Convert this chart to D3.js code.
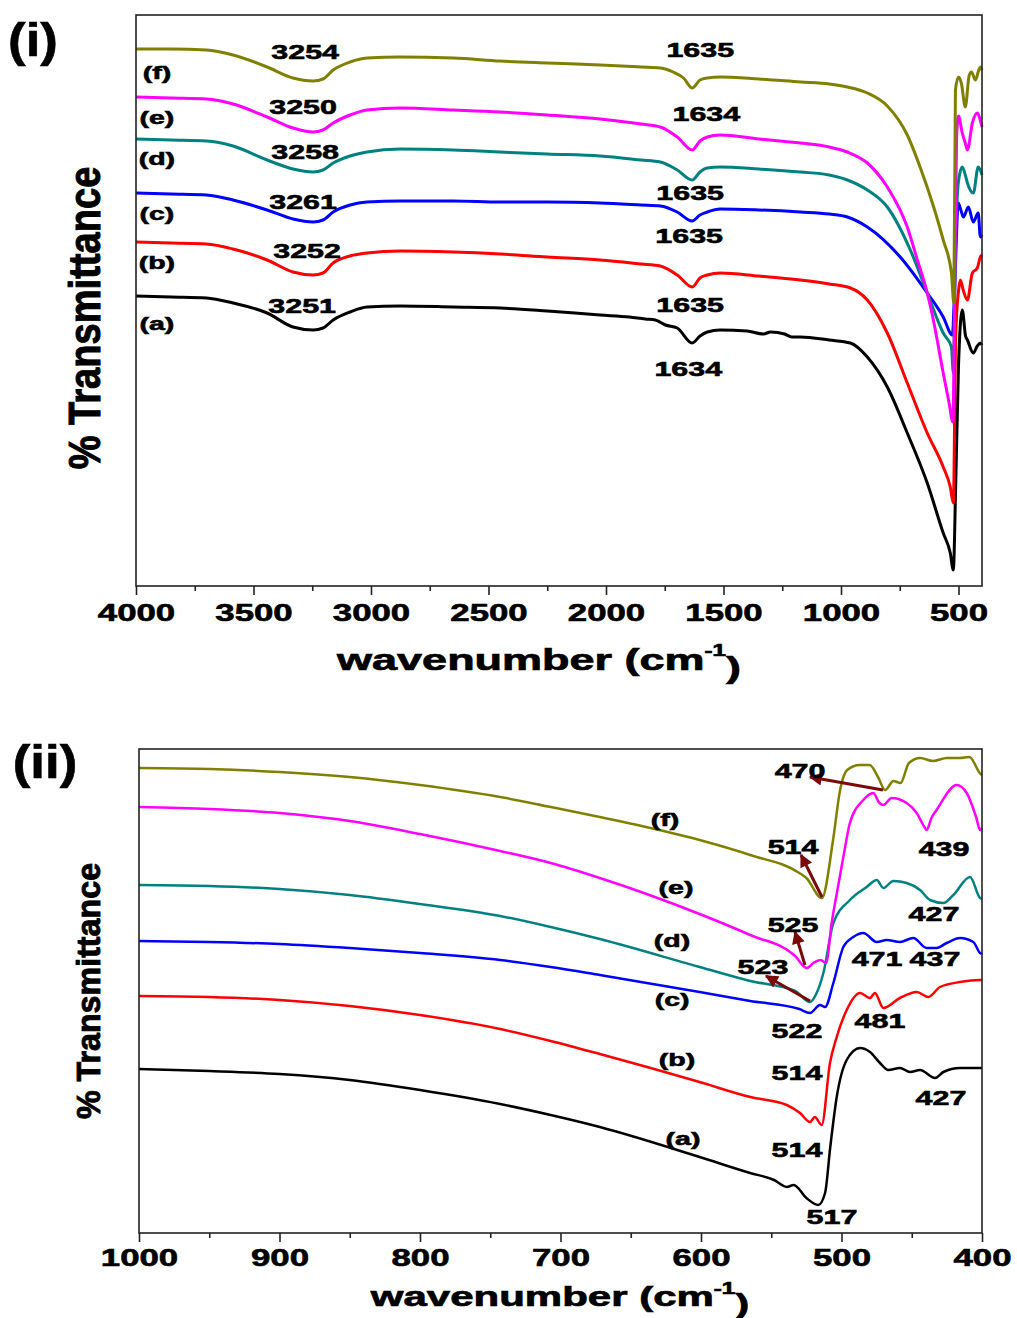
<!DOCTYPE html>
<html>
<head>
<meta charset="utf-8">
<script src="https://cdn.jsdelivr.net/npm/d3@7"></script>
<style>
  body { margin: 0; background: #fff; }
  text { font-family: "Liberation Sans", Arial, sans-serif; font-weight: bold; fill: #000; }
</style>
</head>
<body>
<div id="chart"></div>
<script>
// ---- data: [wavenumber, transmittance (a.u., offset traces)] ----
var seriesNames = ["a", "b", "c", "d", "e", "f"];
var seriesColors = ["#000000", "#ff0000", "#0000ff", "#008080", "#ff00ff", "#808000"];

// panel (i): 4000 - 400 cm-1
var topA = [[4000,29.0],[3850,28.9],[3700,28.8],[3587,28.3],[3442,27.3],[3332,25.9],[3246,25.6],[3204,25.8],[3161,26.6],[3089,27.4],[3017,27.9],[2876,28.0],[2650,27.9],[2450,27.8],[2250,27.5],[2025,27.1],[1900,26.9],[1833,26.7],[1790,26.6],[1747,26.1],[1697,25.8],[1633,24.3],[1600,25.0],[1569,25.4],[1514,25.6],[1400,25.5],[1330,25.2],[1300,25.4],[1240,25.2],[1210,24.9],[1173,24.9],[1050,24.6],[960,24.3],[888,22.9],[803,19.9],[718,15.3],[633,10.3],[565,5.3],[535,3.3],[522,1.6],[512,10.0],[500,22.0],[484,27.6],[470,25.0],[462,24.6],[437,23.3],[420,24.0],[407,24.3],[400,24.1]];
var topB = [[4000,34.4],[3850,34.3],[3700,34.2],[3587,33.7],[3442,32.6],[3332,31.4],[3246,31.1],[3204,31.3],[3161,32.3],[3089,33.0],[3017,33.3],[2876,33.5],[2650,33.4],[2450,33.2],[2250,32.9],[2025,32.6],[1850,32.2],[1769,32.0],[1697,31.1],[1633,29.9],[1600,30.8],[1569,31.1],[1514,31.3],[1350,31.0],[1173,30.6],[1050,30.2],[960,29.8],[888,28.6],[803,25.3],[718,20.3],[633,15.3],[565,11.9],[535,9.9],[522,8.3],[512,25.0],[500,29.5],[492,30.6],[480,29.6],[462,28.6],[441,31.3],[420,31.8],[407,32.9],[400,33.1]];
var topC = [[4000,39.3],[3850,39.2],[3700,39.1],[3587,38.6],[3442,37.6],[3332,36.7],[3246,36.4],[3204,36.6],[3161,37.4],[3089,38.1],[3017,38.4],[2876,38.5],[2650,38.5],[2450,38.4],[2250,38.4],[2025,38.3],[1850,38.1],[1769,38.0],[1697,37.4],[1633,36.5],[1600,37.1],[1569,37.4],[1514,37.7],[1350,37.6],[1173,37.4],[1050,37.2],[973,36.9],[888,35.9],[748,32.9],[633,29.3],[565,26.9],[526,25.1],[516,30.0],[501,38.3],[490,37.6],[479,36.9],[458,37.9],[437,36.4],[416,37.3],[407,34.9],[400,35.1]];
var topD = [[4000,44.7],[3850,44.6],[3700,44.5],[3587,44.0],[3442,42.6],[3332,41.7],[3246,41.4],[3204,41.6],[3161,42.3],[3089,43.0],[3017,43.4],[2876,43.7],[2650,43.6],[2450,43.4],[2250,43.2],[2025,43.0],[1850,42.6],[1769,42.4],[1697,41.6],[1633,40.6],[1600,41.4],[1569,41.8],[1514,41.9],[1350,41.7],[1173,41.4],[1050,41.1],[973,40.6],[888,39.6],[803,37.9],[705,33.6],[633,29.3],[565,25.3],[530,23.9],[522,21.3],[513,33.6],[500,40.5],[484,41.9],[470,41.0],[462,40.3],[437,39.3],[416,41.9],[400,41.1]];
var topE = [[4000,48.9],[3850,48.8],[3700,48.7],[3587,48.2],[3442,46.9],[3332,45.8],[3246,45.4],[3204,45.6],[3161,46.3],[3089,47.1],[3017,47.6],[2876,47.8],[2650,47.6],[2450,47.4],[2250,47.1],[2025,46.7],[1850,46.2],[1769,45.9],[1697,44.9],[1633,43.6],[1600,44.5],[1569,44.9],[1514,45.1],[1350,44.7],[1173,44.3],[1050,43.9],[973,43.4],[888,42.3],[803,39.9],[718,35.9],[675,32.6],[633,29.3],[607,26.6],[565,21.3],[540,18.3],[524,16.4],[516,30.0],[508,45.0],[500,47.0],[484,45.3],[470,44.2],[462,43.6],[441,46.3],[420,47.3],[410,46.8],[400,45.9]];
var topF = [[4000,53.7],[3850,53.7],[3700,53.6],[3587,53.1],[3442,51.9],[3332,50.8],[3246,50.5],[3204,50.7],[3161,51.6],[3089,52.4],[3017,52.8],[2876,52.9],[2650,52.8],[2450,52.5],[2250,52.3],[2025,52.1],[1850,51.9],[1769,51.8],[1714,51.4],[1670,50.8],[1633,49.8],[1600,50.6],[1569,50.8],[1514,50.9],[1350,50.7],[1173,50.4],[1050,50.2],[973,49.9],[888,49.3],[803,48.0],[718,45.1],[662,41.8],[607,38.0],[565,34.6],[530,31.3],[520,28.3],[513,49.6],[500,50.9],[488,50.3],[471,47.9],[455,51.0],[445,51.4],[428,50.6],[415,51.5],[407,51.9],[400,51.6]];

// panel (ii): 1000 - 400 cm-1
var botA = [[1000,16.4],[950,16.2],[900,15.9],[850,15.3],[800,14.3],[743,12.9],[707,11.8],[672,10.6],[601,7.6],[565,6.0],[548,5.3],[539,4.6],[534,4.8],[525,3.5],[516.5,2.8],[511.7,4.0],[508,8.6],[503.4,13.6],[496.3,17.3],[486.8,18.5],[479.7,18.1],[472.6,17.0],[466.7,16.3],[458.4,16.5],[451.2,16.1],[444.1,16.3],[433.4,15.5],[427.5,16.1],[415.7,16.5],[401.4,16.5],[400,16.5]];
var botB = [[1000,23.7],[950,23.6],[900,23.3],[850,22.7],[800,21.8],[743,20.4],[707,19.2],[672,17.9],[601,15.1],[565,13.6],[539,12.8],[529.5,12.0],[522.4,11.1],[519,11.6],[514.1,10.8],[508.2,17.0],[503.4,19.6],[496.3,22.3],[486.8,24.0],[479.7,23.5],[476.2,24.0],[470.2,22.5],[458.4,23.5],[446.5,24.1],[438.2,23.6],[429.9,24.6],[415.7,25.1],[401.4,25.3],[400,25.3]];
var botC = [[1000,29.2],[950,29.1],[900,28.9],[850,28.5],[800,28.0],[743,27.3],[707,26.6],[672,25.8],[601,24.1],[565,23.2],[530,22.4],[522.4,22.0],[515.3,22.8],[511.7,22.6],[505.8,25.0],[498.7,28.6],[491.6,29.6],[484.5,30.0],[474.9,29.1],[467.8,29.3],[458.4,29.1],[448.9,29.5],[439.4,28.5],[432.3,28.5],[425.1,29.0],[415.7,29.5],[406.2,29.1],[401.4,28.0],[400,27.9]];
var botD = [[1000,34.8],[950,34.7],[900,34.4],[850,33.8],[800,32.9],[743,31.7],[707,30.6],[672,29.4],[601,26.6],[565,25.2],[533,24.2],[522.4,23.1],[517.7,24.0],[512.9,26.0],[505.8,31.0],[494,33.3],[482.1,34.6],[474.9,35.3],[470.2,34.5],[463.1,35.2],[453.6,35.0],[444.1,34.3],[437,33.3],[427.5,33.0],[420.4,33.8],[408.5,35.6],[401.4,33.5],[400,33.4]];
var botE = [[1000,42.6],[950,42.4],[900,42.0],[850,41.2],[800,39.9],[743,38.2],[707,37.0],[672,35.5],[601,31.9],[565,29.8],[533,27.7],[524.8,26.5],[520,27.0],[515,27.3],[511,27.0],[507,31.0],[502,35.0],[498.7,37.6],[494,41.0],[484.5,43.3],[477.4,44.0],[473,43.0],[470.2,42.8],[464.3,43.5],[453.6,43.0],[446.5,42.0],[441,40.6],[439.4,40.3],[436,41.5],[432.3,42.3],[418,44.8],[410.9,44.0],[404,41.5],[401.4,40.3],[400,40.5]];
var botF = [[1000,46.5],[950,46.4],[900,46.1],[850,45.6],[800,44.8],[743,43.6],[707,42.6],[672,41.6],[636,40.5],[601,39.3],[565,37.8],[530,36.0],[525,35.5],[514,33.5],[506,39.3],[501,44.3],[496,46.3],[487,46.8],[480,46.8],[474,45.6],[469,44.3],[463,45.2],[458,45.0],[452,47.0],[444,47.5],[435,47.2],[425,47.5],[416,47.5],[409,47.6],[401,45.9],[400,45.8]];

var topSeries = [topA, topB, topC, topD, topE, topF];
var botSeries = [botA, botB, botC, botD, botE, botF];

// tick values
var topMajor = [4000, 3500, 3000, 2500, 2000, 1500, 1000, 500];
var topMinor = [3750, 3250, 2750, 2250, 1750, 1250, 750];
var botMajor = [1000, 900, 800, 700, 600, 500, 400];
var botMinor = [950, 850, 750, 650, 550, 450];

// annotations: [wavenumber, value, text]
var topPeakLabels = [[3280,53.4,"3254"],[3289,47.9,"3250"],[3280,43.4,"3258"],[3289,38.4,"3261"],[3272,33.5,"3252"],[3293,28.0,"3251"],
  [1599,53.6,"1635"],[1573,47.2,"1634"],[1642,39.3,"1635"],[1646,35.0,"1635"],[1642,28.1,"1635"],[1650,21.7,"1634"]];
var topCurveLabels = [[3911,26.3,"(a)"],[3911,32.4,"(b)"],[3911,37.3,"(c)"],[3911,42.8,"(d)"],[3911,46.9,"(e)"],[3911,51.4,"(f)"]];
var botPeakLabels = [[529.5,46.2,"470"],[534.5,38.6,"514"],[427,38.4,"439"],[534.5,30.8,"525"],[434.2,31.9,"427"],[555.9,26.6,"523"],
  [474.7,27.4,"471"],[433.5,27.4,"437"],[531.7,20.2,"522"],[472.6,21.2,"481"],[531.7,16.0,"514"],[429.2,13.5,"427"],[531.7,8.3,"514"],[506.8,1.6,"517"]];
var botCurveLabels = [[612.8,9.5,"(a)"],[617.1,17.4,"(b)"],[620.6,23.4,"(c)"],[620.6,29.3,"(d)"],[617.8,34.6,"(e)"],[625.6,41.4,"(f)"]];
// arrows: tail [wn, value] -> head [wn, value]
var arrowTails = [[470.5,44.3],[513.9,33.6],[526,26.8],[522.4,23.2]];
var arrowHeads = [[522.4,45.6],[528.8,37.8],[533.1,30.1],[553.7,25.7]];

// ---- layout ----
var svgWidth = 1017;
var svgHeight = 1318;

var topBox = { left: 136, right: 982, top: 15, bottom: 586 };
var botBox = { left: 139, right: 982, top: 749, bottom: 1233 };

var svg = d3.select("#chart")
  .append("svg")
  .attr("width", svgWidth)
  .attr("height", svgHeight);

svg.append("defs").append("marker")
  .attr("id", "head")
  .attr("viewBox", "0 0 10 10")
  .attr("refX", 9)
  .attr("refY", 5)
  .attr("markerUnits", "userSpaceOnUse")
  .attr("markerWidth", 16)
  .attr("markerHeight", 13)
  .attr("orient", "auto")
  .append("path")
  .attr("d", "M0,0 L10,5 L0,10 z")
  .attr("fill", "#7a0a0a");

function addText(g, x, y, str, size, sx, anchor) {
  return g.append("text")
    .attr("transform", `translate(${x},${y}) scale(${sx},1)`)
    .attr("text-anchor", anchor || "middle")
    .attr("dominant-baseline", "central")
    .style("font-size", size + "px")
    .style("stroke", "#000")
    .style("stroke-width", "0.6px")
    .text(str);
}

function drawPanel(box, xDomain, yMax, series, lineWidth, major, minor, opts) {
  var x = d3.scaleLinear().domain(xDomain).range([box.left, box.right]);
  var y = d3.scaleLinear().domain([0, yMax]).range([box.bottom, box.top]);
  var g = svg.append("g");

  var line = d3.line()
    .x(d => x(d[0]))
    .y(d => y(d[1]))
    .curve(d3.curveMonotoneX);

  g.selectAll("path.trace")
    .data(series)
    .enter()
    .append("path")
    .attr("class", "trace")
    .attr("d", line)
    .attr("fill", "none")
    .attr("stroke", (d, i) => seriesColors[i])
    .attr("stroke-width", lineWidth)
    .attr("stroke-linejoin", "round");

  // frame
  g.append("rect")
    .attr("x", box.left)
    .attr("y", box.top)
    .attr("width", box.right - box.left)
    .attr("height", box.bottom - box.top)
    .attr("fill", "none")
    .attr("stroke", "#222")
    .attr("stroke-width", 1.6);

  var majorAxis = g.append("g")
    .attr("transform", `translate(0, ${box.bottom})`)
    .call(d3.axisBottom(x).tickValues(major).tickSize(9).tickFormat(d3.format("d")));
  var minorAxis = g.append("g")
    .attr("transform", `translate(0, ${box.bottom})`)
    .call(d3.axisBottom(x).tickValues(minor).tickSize(5).tickFormat(""));
  [majorAxis, minorAxis].forEach(function(ax) {
    ax.select(".domain").remove();
    ax.selectAll("line").attr("stroke", "#222").attr("stroke-width", 1.6);
  });
  majorAxis.selectAll("text")
    .attr("y", opts.tickY)
    .attr("dy", "0.35em")
    .attr("transform", "scale(1.45,1)")
    .style("font-size", "24px")
    .style("font-family", "'Liberation Sans', Arial, sans-serif")
    .style("font-weight", "bold")
    .style("fill", "#000")
    .style("stroke", "#000")
    .style("stroke-width", "0.6px");

  // axis titles
  var xt = g.append("text")
    .attr("transform", `translate(${opts.titleX},${opts.titleY}) scale(1.5,1)`)
    .attr("text-anchor", "middle")
    .attr("dominant-baseline", "central")
    .style("font-size", opts.titleSize + "px")
    .style("stroke", "#000")
    .style("stroke-width", "0.7px");
  xt.append("tspan").text("wavenumber (cm");
  xt.append("tspan").attr("dy", "-0.55em").style("font-size", "16px").text("-1");
  xt.append("tspan").attr("dy", "0.55em").text(")");

  g.append("text")
    .attr("transform", `translate(${opts.yLabX},${opts.yLabY}) rotate(-90) scale(${opts.yLabSx},${opts.yLabSy})`)
    .attr("text-anchor", "middle")
    .attr("dominant-baseline", "central")
    .style("font-size", opts.yLabSize + "px")
    .style("stroke", "#000")
    .style("stroke-width", "0.7px")
    .text("% Transmittance");

  addText(g, opts.panelX, opts.panelY, opts.panel, 46, 1.15);

  return { g: g, x: x, y: y };
}

// ---- panel (i) ----
var p1 = drawPanel(topBox, [4000, 400], 57.1, topSeries, 3, topMajor, topMinor, {
  tickY: 27, titleX: 539, titleY: 659, titleSize: 30,
  yLabX: 85, yLabY: 318, yLabSize: 30, yLabSx: 1.27, yLabSy: 1.45,
  panel: "(i)", panelX: 33, panelY: 40
});
topPeakLabels.forEach(d => addText(p1.g, p1.x(d[0]), p1.y(d[1]), d[2], 21, 1.45));
topCurveLabels.forEach(d => addText(p1.g, p1.x(d[0]), p1.y(d[1]), d[2], 19, 1.5));

// ---- panel (ii) ----
var p2 = drawPanel(botBox, [1000, 400], 48.4, botSeries, 2.5, botMajor, botMinor, {
  tickY: 25, titleX: 560, titleY: 1297, titleSize: 28,
  yLabX: 88, yLabY: 991, yLabSize: 26, yLabSx: 1.24, yLabSy: 1.28,
  panel: "(ii)", panelX: 45, panelY: 762
});

p2.g.selectAll("line.arrow")
  .data(arrowTails)
  .enter()
  .append("line")
  .attr("class", "arrow")
  .attr("x1", d => p2.x(d[0]))
  .attr("y1", d => p2.y(d[1]))
  .attr("x2", (d, i) => p2.x(arrowHeads[i][0]))
  .attr("y2", (d, i) => p2.y(arrowHeads[i][1]))
  .attr("stroke", "#7a0a0a")
  .attr("stroke-width", 3)
  .attr("marker-end", "url(#head)");

botPeakLabels.forEach(d => addText(p2.g, p2.x(d[0]), p2.y(d[1]), d[2], 21, 1.45));
botCurveLabels.forEach(d => addText(p2.g, p2.x(d[0]), p2.y(d[1]), d[2], 19, 1.5));
</script>
</body>
</html>
